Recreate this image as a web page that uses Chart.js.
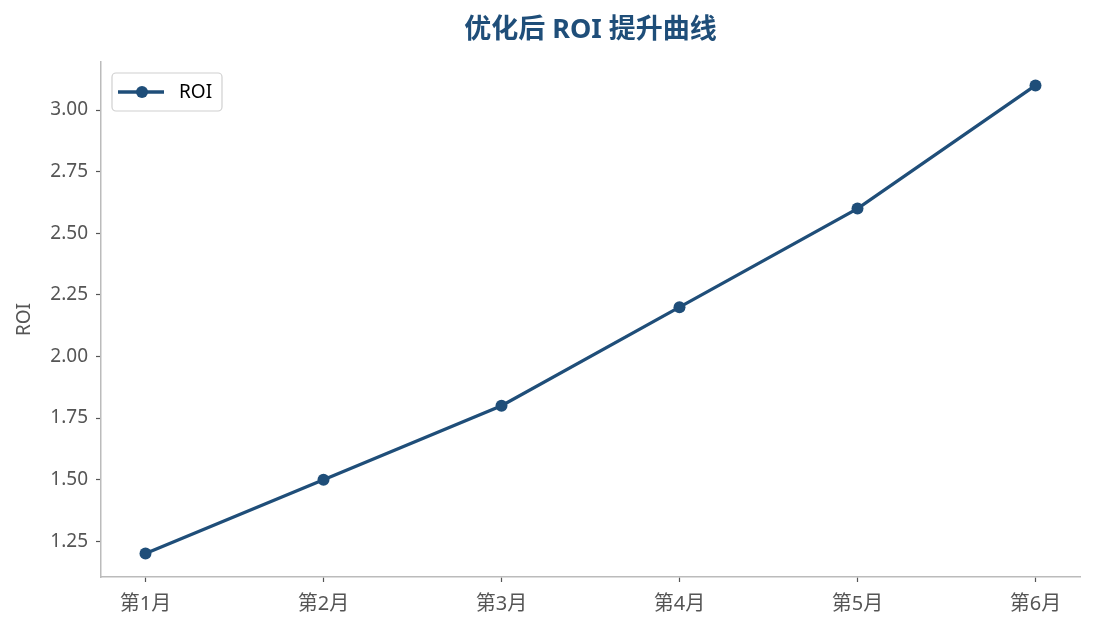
<!DOCTYPE html>
<html>
<head>
<meta charset="utf-8">
<script src="https://cdn.jsdelivr.net/npm/chart.js@4/dist/chart.umd.min.js"></script>
<style>
  html, body { margin: 0; padding: 0; background: #fff; }
  #wrap { width: 1095px; height: 630px; }
</style>
</head>
<body>
<div id="wrap"><canvas id="roi_chart"></canvas></div>
<script>
// data
const months = ['第1月', '第2月', '第3月', '第4月', '第5月', '第6月'];
const roi = [1.2, 1.5, 1.8, 2.2, 2.6, 3.1];
const yTicks = [1.25, 1.5, 1.75, 2.0, 2.25, 2.5, 2.75, 3.0];
const titleText = '优化后 ROI 提升曲线';

const blue = '#1f4e79';
const FONT = "'Noto Sans', 'Noto Sans CJK SC', sans-serif";

// title centred over the plot area, legend box inside the plot (top-left)
const decorations = {
	id: 'decorations',
	afterDraw(chart) {
		const ctx = chart.ctx, a = chart.chartArea;
		ctx.save();
		ctx.fillStyle = blue;
		ctx.font = Chart.helpers.toFont({family: FONT, size: 27, weight: 'bold'}).string;
		ctx.textAlign = 'center';
		ctx.textBaseline = 'middle';
		ctx.fillText(titleText, (a.left + a.right) / 2, 30);

		const x = a.left + 11, y = a.top + 11, w = 110, h = 38;
		ctx.beginPath();
		ctx.roundRect(x, y, w, h, 4);
		ctx.fillStyle = 'rgba(255,255,255,0.8)';
		ctx.fill();
		ctx.strokeStyle = '#d0d0d0';
		ctx.lineWidth = 1.2;
		ctx.stroke();
		const cy = y + h / 2;
		ctx.strokeStyle = blue;
		ctx.lineWidth = 3.3;
		ctx.beginPath();
		ctx.moveTo(x + 6, cy);
		ctx.lineTo(x + 52, cy);
		ctx.stroke();
		ctx.fillStyle = blue;
		ctx.beginPath();
		ctx.arc(x + 30, cy, 6, 0, Math.PI * 2);
		ctx.fill();
		ctx.fillStyle = '#000';
		ctx.font = Chart.helpers.toFont({family: FONT, size: 19}).string;
		ctx.textAlign = 'left';
		ctx.fillText(chart.data.datasets[0].label, x + 67, cy + 1);
		ctx.restore();
	}
};

new Chart(document.getElementById('roi_chart'), {
	type: 'line',
	data: {
		datasets: [{
			label: 'ROI',
			data: roi.map((v, i) => ({x: i, y: v})),
			borderColor: blue,
			backgroundColor: blue,
			borderWidth: 3.3,
			pointRadius: 6,
			pointBorderWidth: 0,
			pointHoverRadius: 6,
			fill: false,
			tension: 0
		}]
	},
	options: {
		responsive: true,
		maintainAspectRatio: false,
		animation: false,
		layout: {padding: {left: 0, right: 15, top: 62, bottom: 0}},
		plugins: {
			legend: {display: false},
			tooltip: {enabled: false},
			title: {display: false}
		},
		scales: {
			x: {
				type: 'linear',
				min: -0.25,
				max: 5.25,
				afterBuildTicks: s => { s.ticks = months.map((_, i) => ({value: i})); },
				afterFit: s => { s.height = 53; },
				ticks: {
					callback: v => months[v],
					color: '#555',
					font: {family: FONT, size: 20},
					padding: 10,
					maxRotation: 0
				},
				grid: {display: true, drawOnChartArea: false, tickLength: 5, tickColor: '#555', tickWidth: 1.2},
				border: {color: '#bbbbbb', width: 1.5}
			},
			y: {
				min: 1.105,
				max: 3.195,
				afterBuildTicks: s => { s.ticks = yTicks.map(v => ({value: v})); },
				afterFit: s => { s.width = 101; },
				ticks: {
					callback: v => v.toFixed(2),
					color: '#555',
					font: {family: FONT, size: 19},
					padding: 8
				},
				grid: {display: true, drawOnChartArea: false, tickLength: 5, tickColor: '#555', tickWidth: 1.2},
				border: {color: '#bbbbbb', width: 1.5},
				title: {
					display: true,
					text: 'ROI',
					color: '#555',
					font: {family: FONT, size: 19},
					padding: {top: 13, bottom: 0}
				}
			}
		}
	},
	plugins: [decorations]
});
</script>
</body>
</html>
